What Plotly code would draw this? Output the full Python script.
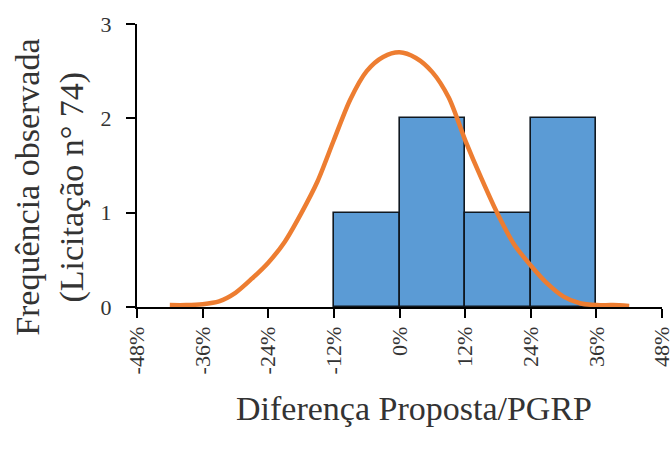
import plotly.graph_objects as go

# Histogram of observed differences (bin centres in %, width 12 %)
bin_centers = [-6, 6, 18, 30]
bin_counts = [1, 2, 1, 2]
bin_width = 12

# Reference normal curve, sampled points (x in %, frequency)
curve_x = [-42, -39, -36, -33, -30, -27, -24, -21, -18, -15, -12, -9, -6, -3, 0,
           3, 6, 9, 12, 15, 18, 21, 24, 27, 30, 33, 36, 39, 42]
curve_y = [0.02, 0.02, 0.03, 0.06, 0.15, 0.30, 0.47, 0.69, 0.99, 1.33, 1.77, 2.20, 2.50, 2.65, 2.70,
           2.64, 2.49, 2.22, 1.77, 1.36, 0.98, 0.66, 0.44, 0.25, 0.11, 0.04, 0.02, 0.02, 0.01]

tick_vals = [-48, -36, -24, -12, 0, 12, 24, 36, 48]
tick_text = [f"{v}%" for v in tick_vals]

FONT = "Liberation Serif, Times New Roman, serif"

fig = go.Figure()
fig.add_trace(go.Bar(
    x=bin_centers, y=bin_counts, width=[bin_width] * len(bin_centers),
    marker=dict(color="#5B9BD5", line=dict(color="#101820", width=1.6)),
    showlegend=False,
))
fig.add_trace(go.Scatter(
    x=curve_x, y=curve_y, mode="lines",
    line=dict(color="#ED7D31", width=4.5, shape="spline", smoothing=0.8),
    showlegend=False,
))

fig.update_layout(
    width=670, height=452,
    margin=dict(l=137, r=8, t=24, b=145, autoexpand=False),
    paper_bgcolor="white", plot_bgcolor="white",
    font=dict(family=FONT, color="#222222"),
    bargap=0,
    xaxis=dict(
        range=[-48, 48], tickvals=tick_vals, ticktext=tick_text,
        tickangle=-90, ticks="outside", ticklen=9, tickwidth=2, tickcolor="black",
        showline=True, linecolor="black", linewidth=2, automargin=False,
        showgrid=False, zeroline=False, ticklabeloverflow="allow",
        tickfont=dict(size=22, family=FONT, color="#333333"),
    ),
    yaxis=dict(
        range=[0, 3], tickvals=[0, 1, 2, 3],
        ticks="outside", ticklen=9, tickwidth=2, tickcolor="black",
        showline=True, linecolor="black", linewidth=2, automargin=False,
        showgrid=False, zeroline=False, ticklabelstandoff=10,
        tickfont=dict(size=22, family=FONT, color="#333333"),
    ),
    annotations=[
        dict(
            text="Frequência observada<br>(Licitação n° 74)",
            xref="paper", yref="paper", x=-0.166, y=0.424,
            xanchor="center", yanchor="middle", textangle=-90,
            showarrow=False, font=dict(size=34, family=FONT, color="#333333"),
        ),
        dict(
            text="Diferença Proposta/PGRP",
            xref="paper", yref="paper", x=0.528, y=-0.357,
            xanchor="center", yanchor="middle",
            showarrow=False, font=dict(size=34, family=FONT, color="#333333"),
        ),
    ],
)

fig.write_html("out.html")
